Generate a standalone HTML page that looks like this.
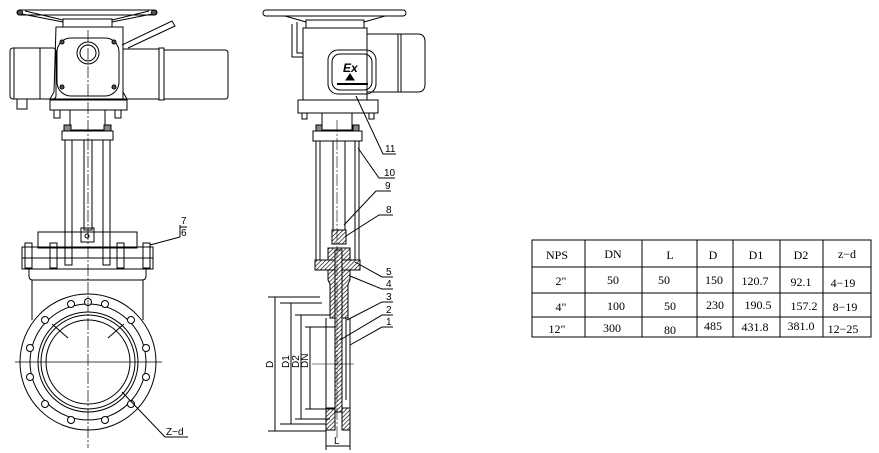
<!DOCTYPE html>
<html><head><meta charset="utf-8"><style>
html,body{margin:0;padding:0;background:#fff;}
svg{display:block;}
text{font-family:"Liberation Sans",sans-serif;fill:#000;}
.t{font-family:"Liberation Serif",serif;font-size:12px;}
</style></head><body>
<svg width="879" height="453" viewBox="0 0 879 453" xmlns="http://www.w3.org/2000/svg">
<defs>
<pattern id="h" width="3" height="3" patternUnits="userSpaceOnUse" patternTransform="rotate(45)">
<rect width="3" height="3" fill="#fff"/><line x1="0" y1="0" x2="0" y2="3" stroke="#000" stroke-width="1.3"/></pattern>
</defs>
<g fill="none" stroke="#000" stroke-width="1">
<rect x="17" y="10" width="140" height="5" rx="2.5" fill="#fff"/>
<circle cx="20" cy="12.5" r="2.5" fill="#555"/><circle cx="154" cy="12.5" r="2.5" fill="#555"/>
<path d="M22 14 L63 22 M152 14 L112 22 M25 11 L63 20 M149 11 L112 20"/>
<rect x="63" y="19" width="49" height="8"/>
<path d="M56 27 H123 V92 L127 99 H50 L54 92 Z"/>
<rect x="57" y="38" width="62" height="58" rx="14"/>
<circle cx="88" cy="53" r="11"/><circle cx="88" cy="53" r="8"/>
<circle cx="62" cy="42" r="2" fill="#555"/><circle cx="114" cy="42" r="2" fill="#555"/>
<circle cx="62" cy="87" r="2" fill="#555"/><circle cx="114" cy="87" r="2" fill="#555"/>
<rect x="10" y="48" width="46" height="51" rx="3"/>
<line x1="14" y1="48" x2="14" y2="99"/><line x1="40" y1="48" x2="40" y2="99"/>
<rect x="17" y="99" width="10" height="10"/>
<rect x="123" y="49" width="36" height="50"/><rect x="159" y="48" width="5" height="52"/>
<path d="M164 50 H225 Q228 50 228 53 V96 Q228 99 225 99 H164"/>
<path d="M122 45 L172 21 L175 26 L128 48"/>
<rect x="50" y="100" width="77" height="10"/>
<rect x="54" y="110" width="6" height="8"/><rect x="115" y="110" width="6" height="8"/>
<rect x="70" y="110" width="35" height="20"/>
<rect x="62" y="131" width="51" height="9"/>
<rect x="64" y="125" width="7" height="6" fill="#888"/><rect x="104" y="125" width="7" height="6" fill="#888"/>
<rect x="65" y="140" width="7" height="125"/><rect x="103" y="140" width="7" height="125"/>
<rect x="84" y="140" width="8" height="90"/>
<rect x="81" y="228" width="13" height="14"/><circle cx="87" cy="236" r="2"/>
<rect x="38" y="232" width="99" height="16"/>
<rect x="22" y="247" width="131" height="11"/>
<rect x="22" y="258" width="131" height="11"/>
<rect x="25" y="243" width="7" height="25"/><rect x="50" y="243" width="7" height="25"/>
<rect x="117" y="243" width="7" height="25"/><rect x="143" y="243" width="7" height="25"/>
<path d="M29 269 V276 Q29 280 33 280 H142 Q146 280 146 276 V269"/>
<path d="M32 280 V320 M143 280 V320"/>
<circle cx="88" cy="362" r="68" fill="#fff"/>
<circle cx="88" cy="362" r="58"/>
<circle cx="88" cy="362" r="50"/>
<circle cx="88" cy="362" r="47"/>
<circle cx="88" cy="362" r="42"/>
<g fill="#fff">
<circle cx="88" cy="302" r="3.5"/><circle cx="71" cy="304" r="3.5"/><circle cx="105" cy="304" r="3.5"/>
<circle cx="45" cy="320" r="3.5"/><circle cx="131" cy="320" r="3.5"/>
<circle cx="30" cy="348" r="3.5"/><circle cx="146" cy="348" r="3.5"/>
<circle cx="30" cy="377" r="3.5"/><circle cx="146" cy="377" r="3.5"/>
<circle cx="45" cy="404" r="3.5"/><circle cx="131" cy="404" r="3.5"/>
<circle cx="71" cy="420" r="3.5"/><circle cx="105" cy="420" r="3.5"/>
</g>
<path d="M52 324 L68 338 M124 324 L108 338 M122 392 L165 437 H188"/>
<line x1="88" y1="30" x2="88" y2="448" stroke-dasharray="12,2,2,2" stroke-width="0.7"/>
<line x1="15" y1="362" x2="162" y2="362" stroke-width="0.7"/>
<path d="M150 245 L180 237 V225"/>
<line x1="180" y1="227" x2="187" y2="227"/>

<rect x="263" y="10" width="143" height="6" rx="3"/>
<path d="M285 16 L306 22 M385 16 L364 22"/>
<rect x="306" y="20" width="58" height="8"/>
<path d="M297 22 V53 H303 M292 24 V57 H303"/>
<rect x="303" y="28" width="64" height="72"/>
<path d="M367 34 H418 Q425 34 425 42 V84 Q425 92 418 92 H367"/>
<line x1="398" y1="34" x2="398" y2="92"/><line x1="401" y1="34" x2="401" y2="92"/>
<rect x="328" y="50" width="48" height="44" rx="10"/>
<rect x="332" y="54" width="40" height="36" rx="8"/>
<text x="343" y="72" font-size="12" font-style="italic" font-weight="bold" stroke="none">Ex</text>
<path d="M350 74 L354 80 H346 Z" fill="#000"/>
<line x1="337" y1="84" x2="368" y2="84" stroke-width="2"/>
<rect x="298" y="100" width="80" height="13"/>
<rect x="302" y="113" width="5" height="6"/><rect x="369" y="113" width="5" height="6"/>
<rect x="322" y="113" width="30" height="17"/>
<rect x="313" y="131" width="49" height="10"/>
<rect x="316" y="125" width="6" height="6" fill="#888"/><rect x="353" y="125" width="6" height="6" fill="#888"/>
<path d="M316 141 V260 M320 141 V260 M355 141 V260 M359 141 V260"/>
<path d="M333 141 V232 M345 141 V232"/>
<rect x="332" y="230" width="14" height="14" fill="url(#h)"/>
<rect x="315" y="260" width="45" height="10" fill="url(#h)"/>
<rect x="328" y="248" width="22" height="12" fill="url(#h)"/>
<path d="M328 270 V280 L330 284 V318 H348 V284 L350 280 V270 Z" fill="url(#h)"/>
<path d="M326 318 V432 M350 318 V432 M342 318 V410 M346 318 V400"/>
<rect x="335" y="250" width="7" height="162" fill="url(#h)"/>
<rect x="326" y="408" width="9" height="22" fill="url(#h)"/>
<rect x="342" y="408" width="8" height="22" fill="url(#h)"/>
<path d="M268 297 H320 M280 303 H322 M295 315 H330 M305 327 H335 M305 409 H335 M295 419 H330 M280 424 H326 M268 431 H326"/>
<path d="M275 297 V431 M291 303 V424 M301 315 V419 M310 327 V409"/>
<path d="M326 432 V450 M350 432 V450 M326 446 H350"/>
<line x1="337" y1="120" x2="337" y2="440" stroke-dasharray="12,2,2,2" stroke-width="0.6"/>
<line x1="312" y1="364" x2="354" y2="364" stroke-width="0.6"/>
<path d="M356 96 L383 154 H396"/>
<path d="M358 148 L379 178 H395"/>
<path d="M344 225 L376 191 H391"/>
<path d="M346 236 L379 215 H393"/>
<path d="M355 262 L382 277 H393"/>
<path d="M350 276 L382 289 H393"/>
<path d="M347 320 L382 302 H393"/>
<path d="M340 340 L382 315 H393"/>
<path d="M350 345 L382 327 H393"/>
</g>
<g font-size="10" stroke="none">
<text x="181" y="224">7</text><text x="181" y="236">6</text>
<text x="166" y="435">Z−d</text>
<text x="385" y="152">11</text><text x="384" y="176">10</text>
<text x="385" y="189">9</text><text x="386" y="213">8</text>
<text x="386" y="275">5</text><text x="386" y="287">4</text>
<text x="386" y="300">3</text><text x="386" y="313">2</text>
<text x="386" y="325">1</text>
<text x="334" y="444">L</text>
<text transform="translate(273,368) rotate(-90)">D</text>
<text transform="translate(289,368) rotate(-90)">D1</text>
<text transform="translate(299,368) rotate(-90)">D2</text>
<text transform="translate(308,368) rotate(-90)">DN</text>
</g>
<g fill="none" stroke="#000" stroke-width="1">
<rect x="532" y="240" width="339" height="97"/>
<path d="M532 267 H871 M532 293 H871 M532 317 H871"/>
<path d="M585 240 V337 M642 240 V337 M697 240 V337 M733 240 V337 M780 240 V337 M823 240 V337"/>
</g>
<g class="t" stroke="none" text-anchor="middle">
<text x="557" y="259" class="t">NPS</text><text x="613" y="258" class="t">DN</text><text x="670" y="259" class="t">L</text>
<text x="713" y="259" class="t">D</text><text x="756" y="259" class="t">D1</text><text x="801" y="259" class="t">D2</text><text x="847" y="258" class="t">z−d</text>
<text x="561" y="285" class="t">2"</text><text x="613" y="284" class="t">50</text><text x="664" y="284" class="t">50</text>
<text x="714" y="284" class="t">150</text><text x="755" y="285" class="t">120.7</text><text x="801" y="286" class="t">92.1</text><text x="843" y="287" class="t">4−19</text>
<text x="561" y="311" class="t">4"</text><text x="616" y="310" class="t">100</text><text x="670" y="310" class="t">50</text>
<text x="715" y="309" class="t">230</text><text x="758" y="309" class="t">190.5</text><text x="804" y="310" class="t">157.2</text><text x="845" y="311" class="t">8−19</text>
<text x="557" y="333" class="t">12"</text><text x="612" y="332" class="t">300</text><text x="670" y="334" class="t">80</text>
<text x="713" y="330" class="t">485</text><text x="755" y="331" class="t">431.8</text><text x="801" y="330" class="t">381.0</text><text x="843" y="333" class="t">12−25</text>
</g>
</svg>
</body></html>
